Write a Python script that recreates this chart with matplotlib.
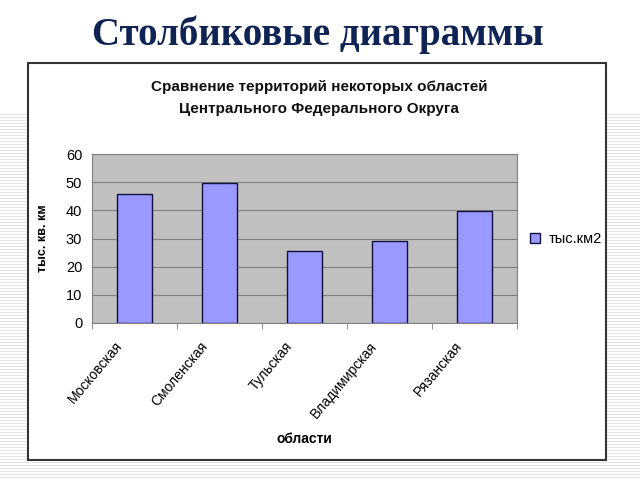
import numpy as np
import matplotlib.pyplot as plt
from matplotlib.patches import Rectangle
from matplotlib.lines import Line2D
from matplotlib.transforms import ScaledTranslation

regions = ['Московская', 'Смоленская', 'Тульская', 'Владимирская', 'Рязанская']
area = [45.8, 49.8, 25.7, 29.1, 39.6]
series_name = 'тыс.км2'

plt.rcParams['font.family'] = ['Liberation Sans', 'DejaVu Sans']

W, H = 640, 480
fig = plt.figure(figsize=(6.4, 4.8), dpi=100)
fig.patch.set_facecolor('white')

# faint striped slide background
for yp in np.arange(114, 480, 3):
    fig.add_artist(Line2D([0, 1], [1 - yp / H, 1 - yp / H], color='#e6e6e6', lw=0.8, zorder=0))

# chart frame
fig.add_artist(Rectangle((30 / W, 1 - 461 / H), 577 / W, 398 / H, facecolor='#9a9a9a',
                         edgecolor='none', zorder=1))
fig.add_artist(Rectangle((28 / W, 1 - 460 / H), 578 / W, 397 / H, facecolor='white',
                         edgecolor='#333333', lw=1.5, zorder=2))

fig.text(318 / W, 1 - 35 / H, 'Столбиковые диаграммы', ha='center', va='center',
         fontsize=28, fontweight='bold', color='#0f2454', family='Liberation Serif')
fig.text(319 / W, 1 - 87 / H, 'Сравнение территорий некоторых областей', ha='center',
         va='center', fontsize=11, fontweight='bold', color='#111111', zorder=3)
fig.text(319 / W, 1 - 109 / H, 'Центрального Федерального Округа', ha='center',
         va='center', fontsize=11, fontweight='bold', color='#111111', zorder=3)

ax = fig.add_axes([92 / W, 1 - 323 / H, 425 / W, 169 / H], zorder=3)
ax.set_facecolor('#c0c0c0')
x = np.arange(len(regions))
ax.bar(x, area, width=0.41, color='#9999ff', edgecolor='#10103a', lw=1.0,
       label=series_name, zorder=3)
ax.set_xlim(-0.5, len(regions) - 0.5)
ax.set_ylim(0, 60)
ax.set_yticks(range(0, 61, 10))
ax.grid(axis='y', color='#808080', lw=0.8, zorder=1)

# category labels, slanted and pulled a bit left like the Excel original
ax.set_xticks(x)
ax.set_xticklabels([])
off = ax.get_xaxis_transform() + ScaledTranslation(-20 / 100, -16 / 100, fig.dpi_scale_trans)
for i, name in enumerate(regions):
    ax.text(i, 0, name, transform=off, rotation=50, ha='right', va='top',
            rotation_mode='anchor', fontsize=10, clip_on=False)

ax.set_xticks(np.arange(-0.5, len(regions)), minor=True)
ax.tick_params(axis='x', which='major', length=0)
ax.tick_params(axis='x', which='minor', length=4, color='#808080')
ax.tick_params(axis='y', length=0, labelsize=10.5, pad=7)
for s in ax.spines.values():
    s.set_color('#808080')
    s.set_linewidth(0.8)

ax.set_xlabel('области', fontsize=10, fontweight='bold', labelpad=0)
ax.xaxis.set_label_coords(0.5, -0.645)
ax.set_ylabel('тыс. кв. км', fontsize=9, fontweight='bold')
ax.yaxis.set_label_coords(-0.1, 0.5)

fig.legend(loc='center left', bbox_to_anchor=(517 / W, 1 - 239 / H), fontsize=10.5,
           frameon=False, handlelength=0.7, handleheight=0.7, handletextpad=0.6)

fig.savefig('out.png', dpi=100)
